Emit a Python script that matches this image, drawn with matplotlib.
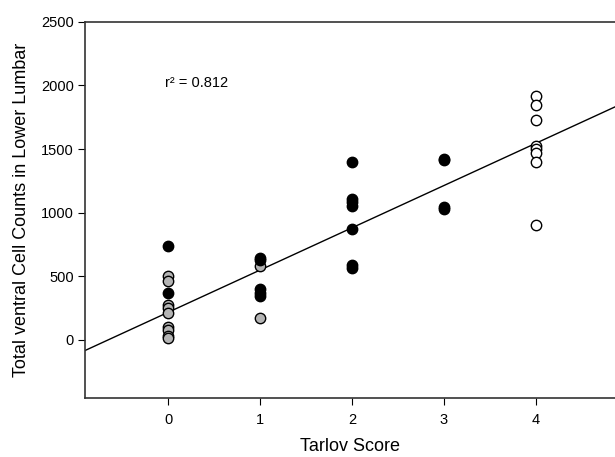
import matplotlib.pyplot as plt
import numpy as np

plt.rcParams['font.family'] = ['Liberation Sans', 'DejaVu Sans']

# black filled points
black_x = [0, 0, 1, 1, 1, 1, 1, 2, 2, 2, 2, 2, 2, 2, 3, 3, 3, 3]
black_y = [740, 370, 645, 625, 400, 370, 340, 1400, 1110, 1080, 1055, 870, 590, 560, 1420, 1410, 1040, 1030]
# gray filled points
gray_x = [0, 0, 0, 0, 0, 0, 0, 0, 0, 1, 1]
gray_y = [500, 460, 270, 250, 210, 100, 75, 30, 10, 580, 170]
# open points
open_x = [4, 4, 4, 4, 4, 4, 4, 4]
open_y = [1920, 1845, 1730, 1520, 1500, 1470, 1400, 905]

slope = 332.6
intercept = 215

fig = plt.figure(figsize=(6.15, 4.57), dpi=100)
ax = fig.add_axes([0.139, 0.129, 0.861, 0.823])

xl = np.array([-0.9, 4.9])
ax.plot(xl, intercept + slope * xl, color='black', lw=1.0, zorder=1)

ax.scatter(gray_x, gray_y, s=56, c='#b4b4b4', edgecolors='black', linewidths=1.0, zorder=3)
ax.scatter(black_x, black_y, s=56, c='black', edgecolors='black', linewidths=1.0, zorder=3)
ax.scatter(open_x, open_y, s=56, c='white', edgecolors='black', linewidths=1.0, zorder=3)

ax.text(-0.03, 2020, 'r² = 0.812', fontsize=10.5, va='center', ha='left')

ax.set_xlim(-0.9, 4.86)
ax.set_ylim(-460, 2500)
ax.set_xticks([0, 1, 2, 3, 4])
ax.set_yticks([0, 500, 1000, 1500, 2000, 2500])
ax.tick_params(direction='out', length=5, labelsize=10.5, top=False, right=False)
ax.tick_params(axis='x', pad=6)
ax.spines['right'].set_visible(False)
for s in ['left', 'bottom', 'top']:
    ax.spines[s].set_color('#333333')
    ax.spines[s].set_linewidth(1.2)

ax.set_xlabel('Tarlov Score', fontsize=13, labelpad=8)
ax.set_ylabel('Total ventral Cell Counts in Lower Lumbar', fontsize=13, labelpad=8)

fig.savefig('out.png', dpi=100)
